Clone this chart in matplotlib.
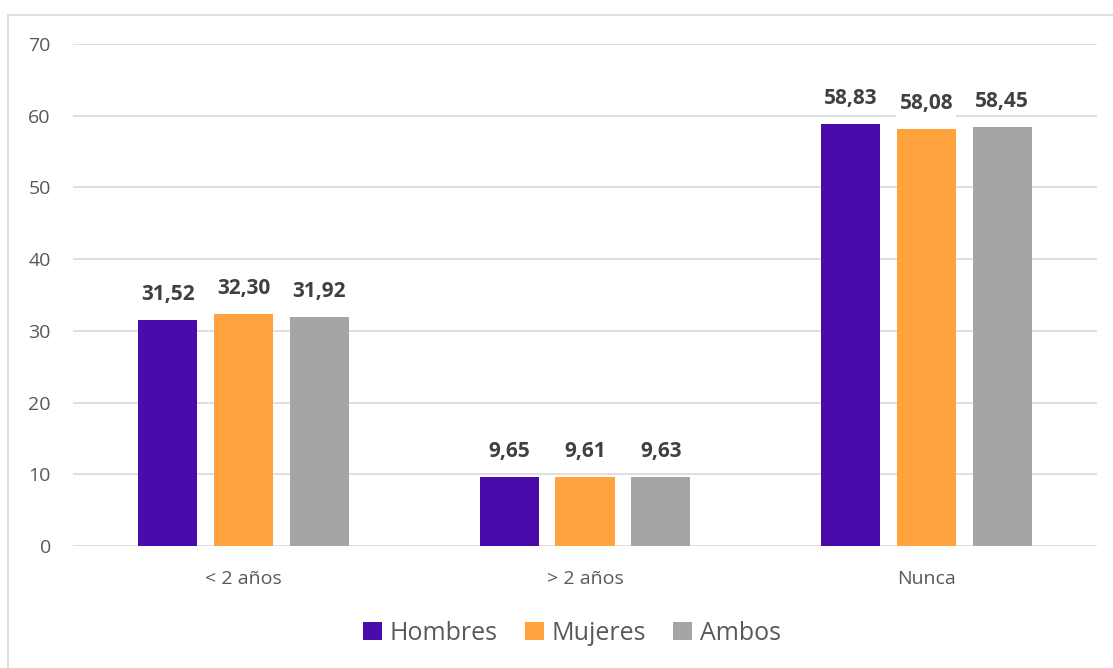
import numpy as np
import matplotlib.pyplot as plt
from matplotlib.patches import Rectangle

categories = ['< 2 años', '> 2 años', 'Nunca']
series = ['Hombres', 'Mujeres', 'Ambos']
hombres = [31.52, 9.65, 58.83]
mujeres = [32.30, 9.61, 58.08]
ambos = [31.92, 9.63, 58.45]
colors = ['#4B0AAA', '#FFA33F', '#A5A5A5']

plt.rcParams['font.family'] = ['Open Sans', 'DejaVu Sans']

fig = plt.figure(figsize=(11.13, 6.68), dpi=100)
ax = fig.add_axes([73 / 1113, 1 - 546 / 668, 1024 / 1113, 502 / 668])

# chart border (left and top only visible in the reference)
fig.patches.append(Rectangle((8 / 1113, -0.1), 1.2, 1 - 15 / 668 + 0.1,
                             transform=fig.transFigure, fill=False,
                             edgecolor='#D9D9D9', linewidth=1.2, zorder=0))

x = np.arange(len(categories))
w = 0.173
step = 0.222
for i, (name, vals) in enumerate(zip(series, [hombres, mujeres, ambos])):
    pos = x + (i - 1) * step
    ax.bar(pos, vals, width=w, color=colors[i], label=name, zorder=3)
    for px, v in zip(pos, vals):
        ax.annotate(f'{v:.2f}'.replace('.', ','), (px, v), xytext=(0, 11),
                    textcoords='offset points', ha='center', va='bottom',
                    fontsize=15, fontweight='bold', color='#404040', zorder=5,
                    bbox=dict(boxstyle='square,pad=0.15', fc='white', ec='none'))

ax.set_xlim(-0.5, 2.5)
ax.set_ylim(0, 70)
ax.set_yticks(range(0, 71, 10))
ax.set_xticks(x)
ax.set_xticklabels(categories)
ax.yaxis.grid(True, color='#D9D9D9', linewidth=1.2, zorder=0)
ax.set_axisbelow(True)
for s in ax.spines.values():
    s.set_visible(False)
ax.tick_params(axis='both', length=0, labelsize=14, colors='#595959')
ax.tick_params(axis='y', pad=16)
ax.tick_params(axis='x', pad=17)

leg = fig.legend(loc='center', bbox_to_anchor=(572 / 1113, 1 - 633 / 668), ncol=3,
                 frameon=False, fontsize=18, handlelength=0.75, handleheight=0.75,
                 handletextpad=0.3, columnspacing=1.1)
for t in leg.get_texts():
    t.set_color('#595959')

fig.savefig('out.png', dpi=100)
